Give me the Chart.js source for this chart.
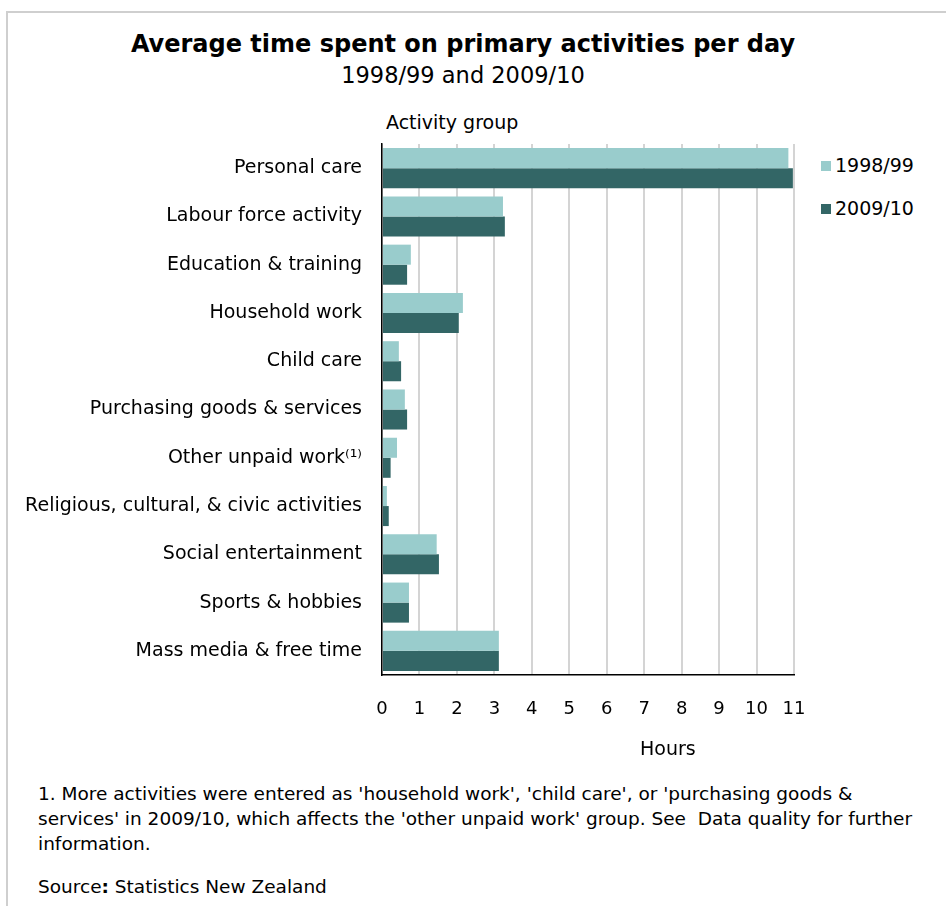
<!DOCTYPE html>
<html>
<head>
<meta charset="utf-8">
<script src="https://cdn.jsdelivr.net/npm/chart.js@4"></script>
<style>
  body { margin: 0; background: #fff; width: 946px; height: 906px; overflow: hidden; position: relative; font-family: 'DejaVu Sans', sans-serif; color: #000; }
  .frame { position: absolute; left: 6px; top: 11px; width: 960px; height: 920px; border-left: 2px solid #cfcfcf; border-top: 2px solid #cfcfcf; }
  .txt { position: absolute; white-space: nowrap; }
  #title { left: 0; width: 926px; top: 30px; text-align: center; font-weight: bold; font-size: 24px; }
  #subtitle { left: 0; width: 926px; top: 62px; text-align: center; font-size: 22.5px; }
  #groupLabel { left: 386px; top: 111px; font-size: 19px; }
  #hours { left: 640px; top: 737px; font-size: 19px; }
  #legend { position: absolute; left: 821px; top: 154px; font-size: 19px; }
  #legend div { height: 43px; display: flex; align-items: flex-start; }
  #legend span.box { display: inline-block; width: 10px; height: 10px; margin-top: 7px; margin-right: 4px; }
  #note { left: 38px; top: 781px; font-size: 18.5px; line-height: 25px; }
  #source { left: 38px; top: 876px; font-size: 18.5px; }
  #wrap { position: absolute; left: 0; top: 140px; width: 946px; height: 620px; }
</style>
</head>
<body>
<div class="frame"></div>
<div class="txt" id="title">Average time spent on primary activities per day</div>
<div class="txt" id="subtitle">1998/99 and 2009/10</div>
<div class="txt" id="groupLabel">Activity group</div>
<div id="legend"></div>
<div id="wrap"><canvas id="chart"></canvas></div>
<div class="txt" id="hours">Hours</div>
<div class="txt" id="note">1. More activities were entered as 'household work', 'child care', or 'purchasing goods &amp;<br>services' in 2009/10, which affects the 'other unpaid work' group. See&nbsp; Data quality for further<br>information.</div>
<div class="txt" id="source">Source<b>:</b> Statistics New Zealand</div>
<script>
const activities = [
    'Personal care',
    'Labour force activity',
    'Education & training',
    'Household work',
    'Child care',
    'Purchasing goods & services',
    'Other unpaid work\u207D\u00B9\u207E',
    'Religious, cultural, & civic activities',
    'Social entertainment',
    'Sports & hobbies',
    'Mass media & free time'
];

const seriesNames = ['1998/99', '2009/10'];
const hours1998 = [10.85, 3.23, 0.77, 2.16, 0.45, 0.61, 0.40, 0.13, 1.46, 0.72, 3.12];
const hours2009 = [10.97, 3.28, 0.67, 2.05, 0.51, 0.67, 0.23, 0.18, 1.52, 0.72, 3.12];
const hourTicks = [0, 1, 2, 3, 4, 5, 6, 7, 8, 9, 10, 11];

const colors = ['#99cccc', '#336666'];

// legend drawn as html so it can sit where the original puts it
const legendEl = document.getElementById('legend');
seriesNames.forEach((name, i) => {
    const row = document.createElement('div');
    row.innerHTML = `<span class="box" style="background:${colors[i]}"></span>${name}`;
    legendEl.appendChild(row);
});

const ctx = document.getElementById('chart').getContext('2d');
const chart = new Chart(ctx, {
    type: 'bar',
    data: {
        labels: activities,
        datasets: [
            { label: seriesNames[0], data: hours1998, backgroundColor: colors[0], borderWidth: 0 },
            { label: seriesNames[1], data: hours2009, backgroundColor: colors[1], borderWidth: 0 }
        ]
    },
    options: {
        indexAxis: 'y',
        responsive: true,
        maintainAspectRatio: false,
        animation: false,
        categoryPercentage: 0.83,
        barPercentage: 1.0,
        layout: { padding: { left: 0, right: 152, top: 4, bottom: 0 } },
        plugins: {
            legend: { display: false },
            tooltip: { enabled: false }
        },
        scales: {
            x: {
                min: 0,
                max: 11,
                afterBuildTicks: scale => { scale.ticks = hourTicks.map(v => ({ value: v })); },
                afterFit: scale => {
                    scale.height = 85;
                    scale.paddingLeft = 0;
                    scale.paddingRight = 0;
                },
                grid: { color: '#d4d4d4', lineWidth: 2, drawTicks: false },
                border: { color: '#000', width: 1.5 },
                ticks: {
                    padding: 24,
                    color: '#000',
                    font: { family: 'DejaVu Sans', size: 18 }
                }
            },
            y: {
                afterFit: scale => {
                    scale.width = 382;
                    scale.paddingTop = 0;
                    scale.paddingBottom = 0;
                },
                grid: { display: false, drawTicks: false },
                border: { color: '#000', width: 1.5 },
                ticks: {
                    padding: 20,
                    color: '#000',
                    font: { family: 'DejaVu Sans', size: 19 }
                }
            }
        }
    }
});
</script>
</body>
</html>
